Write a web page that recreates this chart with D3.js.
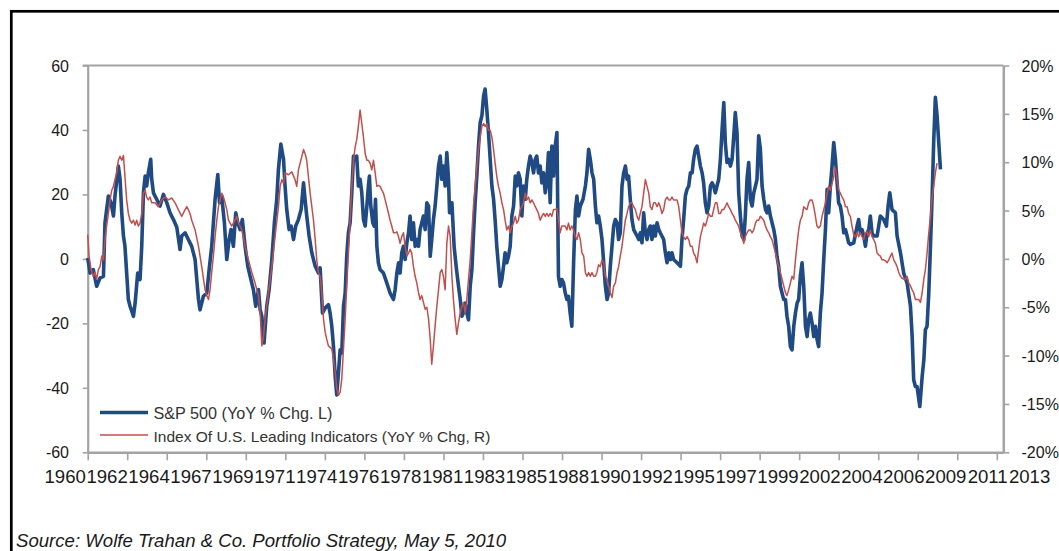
<!DOCTYPE html>
<html>
<head>
<meta charset="utf-8">
<script src="https://cdn.jsdelivr.net/npm/d3@7"></script>
<style>
  body { margin: 0; background: #fff; }
  svg { display: block; }
  text { font-family: "Liberation Sans", Arial, sans-serif; }
</style>
</head>
<body>
<svg id="chart" width="1059" height="551"></svg>
<script>
// Axis tick labels
const xTickLabels = ["1960","1962","1964","1967","1969","1971","1974","1976","1978","1981","1983","1985",
  "1988","1990","1992","1995","1997","1999","2002","2004","2006","2009","2011","2013"];
const leftTicks = [60, 40, 20, 0, -20, -40, -60];
const rightTicks = [20, 15, 10, 5, 0, -5, -10, -15, -20];

// S&P 500, year-over-year % change (left axis); dates as decimal years
const spxDates = [
  1960.00,1960.14,1960.33,1960.53,1960.73,1960.93,1961.02,1961.22,1961.38,1961.52,1961.61,1961.81,1961.91,
  1962.01,1962.11,1962.20,1962.30,1962.40,1962.50,1962.70,1962.80,1962.95,1963.09,1963.19,1963.29,1963.39,
  1963.48,1963.58,1963.72,1963.78,1963.88,1964.07,1964.27,1964.47,1964.67,1964.86,1965.06,1965.26,1965.45,
  1965.55,1965.75,1965.94,1966.14,1966.34,1966.54,1966.63,1966.83,1967.03,1967.17,1967.32,1967.52,1967.68,
  1967.78,1967.91,1968.07,1968.21,1968.35,1968.46,1968.60,1968.74,1968.86,1969.00,1969.13,1969.29,1969.45,
  1969.59,1969.78,1969.92,1970.08,1970.18,1970.28,1970.41,1970.57,1970.71,1970.87,1971.02,1971.16,1971.26,
  1971.40,1971.56,1971.65,1971.75,1971.89,1972.01,1972.15,1972.28,1972.44,1972.60,1972.74,1972.83,1972.93,
  1973.07,1973.23,1973.43,1973.62,1973.72,1973.86,1974.02,1974.21,1974.31,1974.41,1974.51,1974.61,1974.70,
  1974.80,1974.90,1975.00,1975.10,1975.20,1975.29,1975.39,1975.49,1975.59,1975.69,1975.79,1975.88,1975.98,
  1976.08,1976.18,1976.28,1976.38,1976.48,1976.57,1976.63,1976.71,1976.83,1976.91,1976.99,1977.07,1977.16,
  1977.26,1977.46,1977.66,1977.85,1978.05,1978.15,1978.25,1978.35,1978.44,1978.54,1978.64,1978.74,1978.84,
  1978.94,1979.03,1979.13,1979.23,1979.33,1979.43,1979.53,1979.62,1979.82,1979.92,1980.02,1980.12,1980.22,
  1980.31,1980.41,1980.51,1980.61,1980.71,1980.81,1980.90,1981.00,1981.10,1981.20,1981.30,1981.36,1981.50,
  1981.63,1981.75,1981.89,1981.99,1982.09,1982.18,1982.28,1982.38,1982.48,1982.58,1982.68,1982.77,1982.87,
  1982.97,1983.07,1983.17,1983.27,1983.37,1983.46,1983.56,1983.66,1983.76,1983.86,1983.96,1984.05,1984.15,
  1984.25,1984.35,1984.45,1984.55,1984.64,1984.74,1984.84,1984.94,1985.04,1985.14,1985.24,1985.33,1985.43,
  1985.53,1985.63,1985.73,1985.83,1985.92,1986.02,1986.12,1986.22,1986.32,1986.42,1986.51,1986.61,1986.71,
  1986.81,1986.91,1987.01,1987.10,1987.20,1987.30,1987.40,1987.50,1987.60,1987.70,1987.79,1987.89,1987.99,
  1988.09,1988.19,1988.29,1988.38,1988.48,1988.58,1988.69,1988.79,1988.88,1988.98,1989.08,1989.24,1989.38,
  1989.47,1989.57,1989.67,1989.77,1989.87,1989.97,1990.06,1990.16,1990.26,1990.36,1990.46,1990.56,1990.66,
  1990.75,1990.85,1990.95,1991.05,1991.15,1991.25,1991.34,1991.44,1991.54,1991.64,1991.74,1991.84,1991.93,
  1992.03,1992.13,1992.23,1992.33,1992.43,1992.53,1992.62,1992.72,1992.82,1992.92,1993.02,1993.12,1993.21,
  1993.31,1993.41,1993.51,1993.61,1993.71,1993.80,1994.00,1994.10,1994.20,1994.30,1994.40,1994.49,1994.59,
  1994.79,1994.99,1995.08,1995.18,1995.28,1995.38,1995.48,1995.58,1995.68,1995.77,1995.87,1995.97,1996.07,
  1996.17,1996.27,1996.36,1996.46,1996.56,1996.66,1996.76,1996.86,1996.95,1997.05,1997.15,1997.25,1997.35,
  1997.45,1997.55,1997.64,1997.74,1997.84,1997.94,1998.04,1998.14,1998.23,1998.33,1998.43,1998.53,1998.63,
  1998.73,1998.82,1998.92,1999.02,1999.12,1999.22,1999.32,1999.42,1999.51,1999.61,1999.71,1999.81,1999.91,
  2000.01,2000.10,2000.20,2000.30,2000.40,2000.50,2000.60,2000.69,2000.79,2000.89,2000.99,2001.09,2001.19,
  2001.28,2001.38,2001.48,2001.58,2001.68,2001.78,2001.88,2001.97,2002.07,2002.17,2002.27,2002.37,2002.47,
  2002.56,2002.66,2002.76,2002.86,2002.96,2003.06,2003.15,2003.25,2003.35,2003.45,2003.55,2003.65,2003.74,
  2003.84,2003.94,2004.04,2004.14,2004.24,2004.33,2004.43,2004.53,2004.63,2004.73,2004.83,2004.92,2005.02,
  2005.22,2005.42,2005.51,2005.61,2005.71,2005.81,2005.91,2006.01,2006.11,2006.20,2006.30,2006.40,2006.60,
  2006.79,2006.99,2007.15,2007.25,2007.35,2007.48,2007.68,2007.78,2007.98,2008.17,2008.37,2008.57,2008.67,
  2008.76,2008.86,2008.96,2009.12,2009.26,2009.36,2009.45,2009.55,2009.65,2009.75,2009.85,2009.94,2010.04,
  2010.14,2010.24,2010.34
];
const spxValues = [
  0.3,-4.4,-3.3,-8.5,-5.9,-5.4,11.2,19.5,17.4,13.3,19.5,28.8,24.7,
  14.3,7.1,3.9,-4.4,-12.6,-14.7,-17.8,-13.7,-4.4,-6.4,3.9,20.5,25.7,
  22.6,26.7,30.9,24.7,20.5,18.5,16.4,20.0,17.4,14.3,12.2,9.8,2.9,
  7.1,8.1,6.0,3.9,-0.2,-12.6,-15.8,-11.6,-10.6,-3.3,3.9,18.5,26.2,
  17.4,19.5,11.2,-0.2,6.0,9.1,3.9,14.3,11.2,9.1,12.2,3.9,-2.3,
  -5.4,-9.5,-14.7,-9.5,-15.8,-17.8,-26.1,-14.7,-9.5,-0.2,11.2,18.5,27.8,
  35.6,30.9,22.6,15.3,9.1,10.2,6.0,10.2,12.2,15.3,23.6,18.5,13.3,
  7.1,1.9,-2.3,-4.4,-2.8,-16.8,-15.2,-14.2,-16.8,-20.9,-27.2,-36.5,-42.2,
  -35.5,-28.2,-29.2,-14.7,-10.6,0.8,8.1,11.2,20.5,31.9,30.9,31.9,22.6,
  24.7,20.5,12.2,10.2,16.4,22.6,25.7,16.4,11.2,10.2,18.5,3.9,-1.2,
  -3.3,-4.4,-7.5,-10.6,-12.6,-9.5,-4.4,-1.2,-4.4,1.9,3.9,-0.2,5.0,
  8.1,13.3,6.0,11.2,3.9,6.0,3.9,9.1,13.3,9.1,17.4,16.4,0.8,
  6.0,12.2,16.4,22.6,28.8,31.9,24.7,28.8,22.6,33.0,24.7,14.3,17.4,
  3.9,-2.3,-8.5,-12.6,-17.8,-16.8,-13.7,-16.8,-18.9,-8.5,-3.3,7.1,17.4,
  25.7,35.0,42.3,44.4,50.6,52.7,46.4,39.2,30.9,22.6,18.5,12.2,3.9,
  -2.3,-8.5,-6.4,-2.3,1.9,-1.2,0.8,3.9,13.3,16.4,25.7,22.6,26.7,
  24.7,13.3,22.6,18.5,24.7,28.8,31.9,29.9,26.7,30.9,31.9,26.7,28.8,
  23.6,26.7,20.5,23.6,33.0,17.4,35.0,25.7,35.0,39.2,-5.4,-8.5,-6.4,
  -7.5,-10.6,-12.6,-11.6,-16.8,-20.9,-0.2,15.3,19.5,13.3,16.4,18.5,22.6,
  26.7,34.0,30.9,26.7,24.7,16.4,11.2,13.3,10.2,6.0,-1.2,-8.5,-12.6,
  -10.6,-2.3,3.9,10.2,12.2,11.2,6.0,8.1,22.6,26.7,28.8,24.7,25.7,
  18.5,12.2,9.1,8.1,7.1,6.0,8.1,5.0,14.3,8.1,6.0,9.1,10.2,
  6.0,10.2,7.1,11.2,9.1,8.1,6.0,1.9,-1.2,1.9,-0.2,1.9,-0.2,
  -1.2,-2.3,6.0,12.2,19.5,21.6,22.6,26.7,26.7,30.9,34.0,35.0,31.9,
  28.8,26.7,23.6,17.4,14.3,16.4,22.6,23.6,22.6,20.5,22.6,24.7,30.9,
  40.2,48.5,36.1,29.9,30.9,28.8,30.9,38.2,45.4,39.2,20.5,13.3,7.1,
  6.0,13.3,24.7,29.9,18.5,16.4,20.5,22.6,24.7,38.2,34.0,22.6,18.5,
  15.3,14.3,16.4,13.3,11.2,9.1,6.0,0.8,-2.3,-8.5,-10.6,-12.6,-12.6,
  -17.8,-20.9,-27.2,-28.2,-20.9,-16.8,-13.7,-12.6,-5.4,-1.2,-8.5,-20.9,-24.1,
  -18.9,-16.8,-19.9,-24.1,-20.9,-25.1,-27.2,-16.8,-10.6,-0.2,9.1,21.6,14.3,
  22.6,28.8,36.1,30.9,23.6,17.4,16.4,13.3,8.1,9.1,7.1,5.0,4.5,
  5.0,10.2,12.2,8.1,9.1,7.1,3.9,8.1,9.1,13.3,8.1,7.1,7.1,
  13.3,12.2,10.2,16.4,20.5,15.3,14.3,7.1,1.9,-4.4,-7.5,-14.7,-24.1,
  -37.5,-39.6,-39.6,-45.8,-36.5,-31.3,-22.0,-20.9,-10.6,3.9,19.5,36.1,50.1,
  44.4,36.1,27.8
];

// Index of U.S. Leading Indicators, year-over-year % change (right axis)
const leiDates = [
  1960.00,1960.08,1960.20,1960.33,1960.43,1960.53,1960.63,1960.73,1960.83,1960.93,1961.02,1961.12,1961.22,
  1961.32,1961.42,1961.52,1961.61,1961.71,1961.81,1961.91,1962.01,1962.11,1962.20,1962.30,1962.40,1962.50,
  1962.60,1962.70,1962.80,1962.89,1962.99,1963.09,1963.19,1963.29,1963.39,1963.48,1963.58,1963.68,1963.78,
  1963.98,1964.17,1964.37,1964.57,1964.76,1964.96,1965.16,1965.35,1965.55,1965.75,1965.85,1965.94,1966.04,
  1966.14,1966.34,1966.54,1966.73,1966.93,1967.03,1967.13,1967.22,1967.32,1967.42,1967.52,1967.62,1967.72,
  1967.82,1967.91,1968.01,1968.11,1968.21,1968.31,1968.50,1968.60,1968.70,1968.80,1968.90,1969.00,1969.09,
  1969.19,1969.29,1969.49,1969.69,1969.88,1970.08,1970.18,1970.28,1970.38,1970.47,1970.67,1970.87,1971.06,
  1971.26,1971.36,1971.46,1971.56,1971.65,1971.85,1972.05,1972.24,1972.34,1972.44,1972.64,1972.74,1972.83,
  1972.93,1973.03,1973.13,1973.23,1973.33,1973.43,1973.52,1973.62,1973.72,1973.82,1973.92,1974.02,1974.11,
  1974.21,1974.41,1974.51,1974.61,1974.70,1974.80,1974.90,1975.00,1975.10,1975.20,1975.29,1975.39,1975.49,
  1975.59,1975.69,1975.79,1975.88,1975.98,1976.08,1976.18,1976.28,1976.38,1976.48,1976.57,1976.67,1976.77,
  1976.87,1976.97,1977.07,1977.16,1977.26,1977.36,1977.46,1977.56,1977.66,1977.76,1977.85,1977.95,1978.05,
  1978.15,1978.25,1978.35,1978.44,1978.54,1978.64,1978.74,1978.84,1978.94,1979.03,1979.13,1979.23,1979.33,
  1979.43,1979.53,1979.62,1979.72,1979.82,1979.92,1980.02,1980.12,1980.22,1980.31,1980.41,1980.51,1980.61,
  1980.71,1980.81,1980.90,1981.00,1981.10,1981.20,1981.30,1981.40,1981.50,1981.59,1981.69,1981.79,1981.89,
  1981.99,1982.09,1982.18,1982.28,1982.38,1982.48,1982.58,1982.68,1982.77,1982.87,1982.97,1983.07,1983.17,
  1983.27,1983.37,1983.46,1983.56,1983.66,1983.76,1983.86,1983.96,1984.05,1984.15,1984.25,1984.35,1984.45,
  1984.55,1984.64,1984.74,1984.84,1984.94,1985.04,1985.14,1985.24,1985.33,1985.43,1985.53,1985.63,1985.73,
  1985.83,1985.92,1986.02,1986.12,1986.22,1986.32,1986.42,1986.51,1986.61,1986.71,1986.81,1986.91,1987.01,
  1987.10,1987.20,1987.30,1987.40,1987.50,1987.60,1987.70,1987.79,1987.89,1987.99,1988.09,1988.19,1988.29,
  1988.38,1988.48,1988.58,1988.68,1988.78,1988.88,1988.98,1989.08,1989.18,1989.28,1989.38,1989.47,1989.57,
  1989.67,1989.77,1989.87,1989.97,1990.06,1990.16,1990.26,1990.36,1990.46,1990.56,1990.66,1990.75,1990.85,
  1990.95,1991.05,1991.15,1991.25,1991.34,1991.44,1991.54,1991.64,1991.74,1991.84,1991.93,1992.03,1992.13,
  1992.23,1992.33,1992.43,1992.53,1992.62,1992.72,1992.82,1992.92,1993.02,1993.12,1993.21,1993.31,1993.41,
  1993.51,1993.61,1993.71,1993.80,1993.90,1994.00,1994.10,1994.20,1994.30,1994.40,1994.49,1994.59,1994.79,
  1994.89,1994.99,1995.08,1995.18,1995.28,1995.38,1995.48,1995.58,1995.68,1995.77,1995.87,1995.97,1996.07,
  1996.17,1996.27,1996.36,1996.46,1996.56,1996.66,1996.76,1996.86,1996.95,1997.05,1997.15,1997.25,1997.35,
  1997.45,1997.55,1997.64,1997.74,1997.84,1997.94,1998.04,1998.14,1998.23,1998.33,1998.43,1998.53,1998.63,
  1998.73,1998.82,1998.92,1999.02,1999.12,1999.22,1999.32,1999.42,1999.51,1999.61,1999.71,1999.81,1999.91,
  2000.01,2000.10,2000.20,2000.30,2000.40,2000.50,2000.60,2000.69,2000.79,2000.89,2000.99,2001.09,2001.19,
  2001.28,2001.38,2001.48,2001.58,2001.68,2001.78,2001.88,2001.97,2002.07,2002.17,2002.27,2002.37,2002.46,
  2002.56,2002.66,2002.76,2002.86,2002.96,2003.05,2003.15,2003.25,2003.35,2003.45,2003.55,2003.65,2003.74,
  2003.84,2003.94,2004.04,2004.10,2004.16,2004.24,2004.33,2004.43,2004.53,2004.63,2004.73,2004.83,2004.92,
  2005.02,2005.12,2005.22,2005.32,2005.42,2005.51,2005.61,2005.71,2005.81,2005.91,2006.01,2006.11,2006.20,
  2006.30,2006.40,2006.50,2006.60,2006.70,2006.79,2006.89,2006.99,2007.09,2007.19,2007.29,2007.39,2007.48,
  2007.58,2007.68,2007.78,2007.88,2007.98,2008.07,2008.17,2008.27,2008.37,2008.47,2008.57,2008.67,2008.76,
  2008.86,2008.96,2009.06,2009.16,2009.26,2009.36,2009.45,2009.55,2009.65,2009.75,2009.85,2009.94,2010.04,
  2010.14
];
const leiValues = [
  2.5,0.3,-1.1,-1.8,-1.4,-2.1,-1.1,-0.8,0.3,-0.1,2.0,3.4,4.7,
  6.1,7.1,7.5,8.2,8.9,10.2,10.6,10.2,10.7,8.5,6.1,4.7,4.0,
  3.7,4.0,3.5,4.0,3.4,3.7,4.7,6.8,7.1,6.4,6.1,6.4,5.8,
  5.8,5.4,6.1,6.4,6.1,6.3,5.8,5.1,4.4,5.1,5.4,5.1,4.7,
  4.0,3.0,1.3,-0.8,-3.2,-3.8,-4.2,-3.2,-1.4,0.3,2.3,4.0,5.4,
  6.1,6.8,6.4,5.8,5.1,4.0,3.4,3.7,4.0,4.4,3.7,3.4,3.0,
  2.3,1.3,-0.1,-1.4,-2.5,-3.8,-5.6,-9.0,-8.0,-6.2,-3.5,-0.8,2.3,
  5.4,7.5,8.2,7.8,8.9,8.7,9.0,8.2,7.5,9.2,10.6,11.3,10.9,
  10.2,8.5,6.8,5.4,4.0,2.0,-0.1,-1.4,-1.8,-3.5,-6.2,-7.6,-8.3,
  -9.0,-9.3,-10.4,-11.7,-13.4,-14.1,-13.8,-12.4,-9.3,-6.2,-2.8,0.6,4.0,
  7.5,10.2,11.6,12.3,13.7,15.4,14.0,12.6,10.9,10.2,10.2,9.9,9.2,
  10.2,8.9,7.5,7.6,7.5,7.1,6.8,6.1,5.4,4.7,4.0,3.4,2.7,
  2.7,2.8,2.3,1.6,2.3,2.7,1.3,0.3,0.6,1.0,0.6,-0.8,-1.8,
  -2.5,-3.5,-4.2,-3.8,-4.5,-5.2,-5.0,-6.2,-8.3,-10.9,-9.0,-6.9,-4.9,
  -3.2,-1.4,-1.1,-1.8,-3.2,1.6,3.4,2.3,-1.8,-4.2,-6.2,-7.8,-6.6,
  -5.6,-4.9,-4.5,-5.6,-4.2,-2.1,-0.1,2.7,5.4,7.5,9.5,11.3,12.6,
  13.7,14.0,13.7,14.0,13.3,13.3,12.6,11.3,9.9,8.5,7.5,6.8,5.8,
  5.1,4.0,3.0,3.4,2.7,3.4,3.7,4.4,3.7,4.0,5.1,5.4,5.8,
  6.8,6.1,6.4,5.8,6.1,5.8,5.4,5.1,4.7,4.0,4.4,4.7,4.4,
  4.7,4.4,4.7,4.4,5.1,5.1,5.2,4.0,2.7,3.4,3.4,3.4,3.0,
  3.7,3.0,3.4,3.0,2.3,2.0,2.7,2.0,0.6,0.3,-1.4,-1.8,-1.4,
  -1.8,-1.4,-1.8,-1.8,-1.4,-0.6,-0.8,-0.1,-0.4,-1.8,-2.1,-2.8,-3.5,
  -4.0,-2.8,-2.5,-1.4,-0.8,0.3,1.3,2.7,4.0,4.7,5.4,5.8,5.8,
  5.4,5.1,4.4,4.0,4.7,5.4,6.8,8.2,7.5,6.8,5.4,5.1,5.8,
  5.8,5.4,5.8,5.4,4.7,5.1,6.1,6.4,6.1,6.1,6.4,6.1,6.1,
  5.4,4.0,2.7,2.3,2.0,2.3,2.0,1.3,1.3,0.6,0.3,-0.4,1.0,
  2.3,3.0,3.7,3.4,4.0,4.7,4.4,4.4,5.1,5.8,5.8,4.7,4.7,
  5.1,5.1,5.4,5.8,5.4,5.1,4.7,4.4,4.0,3.7,3.4,2.7,2.3,
  1.6,2.3,2.7,3.0,3.0,2.7,3.0,3.7,4.0,4.0,4.4,4.2,4.0,
  3.4,3.0,2.7,2.3,2.0,1.3,0.6,-0.1,-0.8,-1.4,-2.1,-2.8,-3.5,
  -3.8,-3.2,-2.5,-1.8,-2.1,-0.1,1.6,3.0,4.0,4.4,5.4,5.2,5.1,
  5.8,6.1,6.1,5.4,4.4,3.4,3.2,3.4,4.4,5.1,5.8,6.8,7.5,
  7.1,7.8,8.5,9.5,9.2,8.2,7.1,6.8,6.4,6.1,5.4,5.4,4.7,
  4.4,3.4,2.5,2.3,2.7,2.3,2.7,2.3,2.0,2.7,2.8,2.3,3.0,
  2.3,2.0,1.6,0.6,0.4,0.3,-0.1,-0.1,-0.2,-0.4,-0.1,0.3,0.6,
  -0.1,-0.4,-0.8,-1.4,-1.8,-2.0,-2.1,-2.1,-1.8,-2.5,-2.8,-3.2,-3.5,
  -4.2,-4.2,-4.2,-4.5,-3.5,-2.1,-1.1,0.6,2.7,4.4,6.4,7.5,8.9,
  9.9
];

const legendLabels = ["S&P 500 (YoY % Chg. L)", "Index Of U.S. Leading Indicators (YoY % Chg, R)"];
const sourceNote = "Source: Wolfe Trahan & Co. Portfolio Strategy, May 5, 2010";

const BLUE = "#1f4a84";
const RED = "#c0504d";
const AXIS = "#a3a3a3";

const svg = d3.select("#chart");

// Outer frame
svg.append("rect")
  .attr("x", 11.3).attr("y", 11.3)
  .attr("width", 1100).attr("height", 600)
  .attr("fill", "none").attr("stroke", "#000").attr("stroke-width", 2.7);

const plot = { left: 87.7, right: 1003.3, top: 65.5, bottom: 452.3 };

// Time axis spans Jan 1960 to early 2014, ticks every 28 months
const x = d3.scaleLinear().domain([1960, 2014.05]).range([plot.left, plot.right]);
const yL = d3.scaleLinear().domain([-60, 60]).range([plot.bottom, plot.top]);
const yR = d3.scaleLinear().domain([-20, 20]).range([plot.bottom, plot.top]);
const xTickDates = xTickLabels.map((_, i) => 1960 + i * 28 / 12);

// Plot border (top edge)
svg.append("line")
  .attr("x1", plot.left - 5).attr("x2", plot.right)
  .attr("y1", plot.top).attr("y2", plot.top)
  .attr("stroke", AXIS).attr("stroke-width", 2);

// Left axis
const gL = svg.append("g").attr("transform", `translate(${plot.left},0)`)
  .call(d3.axisLeft(yL).tickValues(leftTicks).tickSize(5).tickSizeOuter(0).tickFormat(""));
gL.select(".domain").attr("stroke", AXIS).attr("stroke-width", 2.2);
gL.selectAll(".tick line").attr("stroke", AXIS).attr("stroke-width", 1.6);
svg.append("g").selectAll("text").data(leftTicks).join("text")
  .attr("x", 69).attr("y", d => yL(d) + 6)
  .attr("text-anchor", "end").attr("font-size", 16).attr("fill", "#1a1a1a")
  .text(d => d);

// Right axis
const gR = svg.append("g").attr("transform", `translate(${plot.right},0)`)
  .call(d3.axisRight(yR).tickValues(rightTicks).tickSize(6).tickSizeOuter(0).tickFormat(""));
gR.select(".domain").attr("stroke", AXIS).attr("stroke-width", 2.5);
gR.selectAll(".tick line").attr("stroke", AXIS).attr("stroke-width", 1.6);
svg.append("g").selectAll("text").data(rightTicks).join("text")
  .attr("x", 1021.5).attr("y", d => yR(d) + 6)
  .attr("text-anchor", "start").attr("font-size", 16).attr("fill", "#1a1a1a")
  .text(d => d + "%");

// Bottom axis
const gB = svg.append("g").attr("transform", `translate(0,${plot.bottom})`)
  .call(d3.axisBottom(x).tickValues(xTickDates).tickSize(8).tickSizeOuter(0).tickFormat(""));
gB.select(".domain").attr("stroke", AXIS).attr("stroke-width", 2.6);
gB.selectAll(".tick line").attr("stroke", AXIS).attr("stroke-width", 1.6);

const xLabelPos = d3.scalePoint().domain(xTickLabels).range([65.2, 1029.6]);
svg.append("g").selectAll("text").data(xTickLabels).join("text")
  .attr("x", d => xLabelPos(d)).attr("y", 482.5)
  .attr("text-anchor", "middle").attr("font-size", 18.6).attr("fill", "#1a1a1a")
  .text(d => d);

// Series lines
const spx = spxDates.map((d, i) => [d, spxValues[i]]);
const lei = leiDates.map((d, i) => [d, leiValues[i]]);

svg.append("path").datum(spx)
  .attr("fill", "none").attr("stroke", BLUE).attr("stroke-width", 3.6)
  .attr("stroke-linejoin", "round")
  .attr("d", d3.line().x(d => x(d[0])).y(d => yL(d[1])));

svg.append("path").datum(lei)
  .attr("fill", "none").attr("stroke", RED).attr("stroke-width", 1.5)
  .attr("stroke-linejoin", "round")
  .attr("d", d3.line().x(d => x(d[0])).y(d => yR(d[1])));

// Legend
const legend = svg.append("g");
const legendRows = [
  { label: legendLabels[0], color: BLUE, width: 3.6, y: 412.5, size: 16.2 },
  { label: legendLabels[1], color: RED, width: 1.5, y: 435, size: 15.5 }
];
legend.selectAll("line").data(legendRows).join("line")
  .attr("x1", 100).attr("x2", 148)
  .attr("y1", d => d.y).attr("y2", d => d.y)
  .attr("stroke", d => d.color).attr("stroke-width", d => d.width);
legend.selectAll("text").data(legendRows).join("text")
  .attr("x", 153.5).attr("y", d => d.y + 6.5)
  .attr("font-size", d => d.size).attr("fill", "#333")
  .text(d => d.label);

// Source note
svg.append("text")
  .attr("x", 16).attr("y", 546.5)
  .attr("font-size", 18.6).attr("font-style", "italic").attr("fill", "#1a1a1a")
  .text(sourceNote);
</script>
</body>
</html>
